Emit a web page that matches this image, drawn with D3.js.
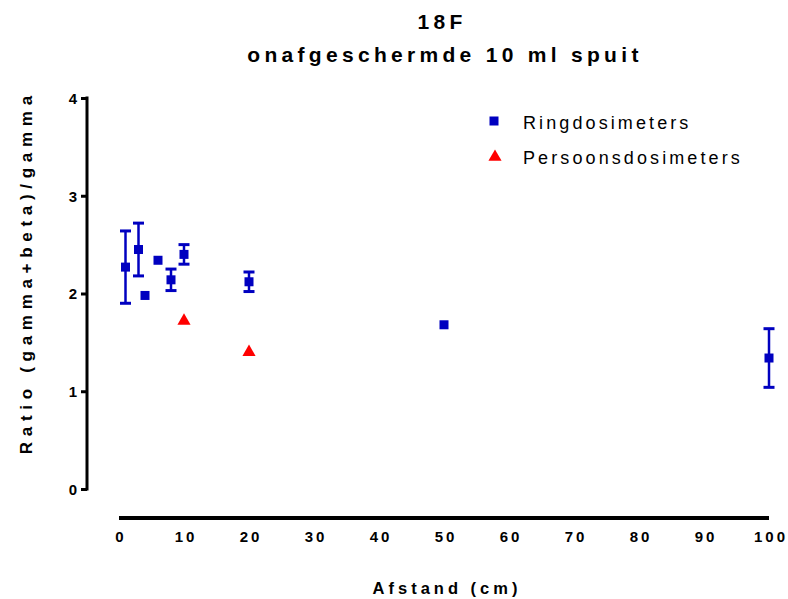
<!DOCTYPE html>
<html><head><meta charset="utf-8">
<script src="https://cdn.jsdelivr.net/npm/d3@7"></script>
<style>body{margin:0;background:#fff}svg{display:block}text{font-family:"Liberation Sans",Arial,sans-serif}</style>
</head><body>
<svg id="c" width="788" height="599"></svg>
<script>
const titleLines = ["18F", "onafgeschermde 10 ml spuit"];
const xLabel = "Afstand (cm)";
const yLabel = "Ratio (gamma+beta)/gamma";
const seriesNames = ["Ringdosimeters", "Persoonsdosimeters"];
const ringX = [1, 3, 4, 6, 8, 10, 20, 50, 100];
const ringY = [2.27, 2.45, 1.98, 2.34, 2.14, 2.40, 2.12, 1.68, 1.34];
const ringErr = [0.37, 0.27, 0, 0, 0.11, 0.10, 0.10, 0, 0.30];
const persX = [10, 20];
const persY = [1.72, 1.40];
const xTicks = [0, 10, 20, 30, 40, 50, 60, 70, 80, 90, 100];
const yTicks = [0, 1, 2, 3, 4];

const svg = d3.select("#c");
const x = d3.scaleLinear().domain([0, 100]).range([119, 769]);
const y = d3.scaleLinear().domain([0, 4]).range([489, 98]);
const blue = "#0000C0", red = "#FF0000";

// titles
svg.append("text").attr("x", 440).attr("y", 28.5).attr("dx", 2).attr("text-anchor", "middle")
  .attr("font-size", 21).attr("font-weight", "bold").attr("letter-spacing", 4.3).text(titleLines[0]);
svg.append("text").attr("x", 443).attr("y", 62).attr("dx", 2).attr("text-anchor", "middle")
  .attr("font-size", 21).attr("font-weight", "bold").attr("letter-spacing", 4.3).text(titleLines[1]);

// y axis
const yAxis = svg.append("g").attr("transform", "translate(87,0)")
  .call(d3.axisLeft(y).tickValues(yTicks).tickFormat(d3.format("d")).tickSize(6).tickPadding(4));
yAxis.select(".domain").attr("stroke", "#000").attr("stroke-width", 3).attr("d", `M0,${y(0)+1.5}V${y(4)-1.5}`);
yAxis.selectAll(".tick line").attr("stroke", "#000").attr("stroke-width", 3);
yAxis.selectAll(".tick text").attr("font-size", 15).attr("font-weight", "bold").attr("fill", "#000")
  .attr("font-family", "Liberation Sans, Arial, sans-serif").attr("dy", "0.36em");

// x axis
const xAxis = svg.append("g").attr("transform", "translate(0,518)")
  .call(d3.axisBottom(x).tickValues(xTicks).tickFormat(d3.format("d")).tickSize(0).tickPadding(13));
xAxis.select(".domain").attr("stroke", "#000").attr("stroke-width", 4).attr("d", `M${x(0)},0H${x(100)}`);
xAxis.selectAll(".tick text").attr("font-size", 15).attr("font-weight", "bold").attr("fill", "#000")
  .attr("font-family", "Liberation Sans, Arial, sans-serif").attr("letter-spacing", 3).attr("dx", 1.5);

// axis labels
svg.append("text").attr("x", 445).attr("y", 593.5).attr("dx", 2).attr("text-anchor", "middle")
  .attr("font-size", 16.5).attr("font-weight", "bold").attr("letter-spacing", 4).text(xLabel);
svg.append("text").attr("transform", "translate(32,275) rotate(-90)").attr("dx", 2.8).attr("text-anchor", "middle")
  .attr("font-size", 17).attr("font-weight", "bold").attr("letter-spacing", 5.7).text(yLabel);

// error bars
const ring = ringX.map((d, i) => ({x: d, y: ringY[i], e: ringErr[i]}));
const eb = svg.append("g").attr("stroke", blue).attr("stroke-width", 2.5).attr("fill", "none");
ring.filter(d => d.e > 0).forEach(d => {
  const cx = x(d.x), t = y(d.y + d.e), b = y(d.y - d.e);
  eb.append("line").attr("x1", cx).attr("x2", cx).attr("y1", t).attr("y2", b);
  eb.append("line").attr("x1", cx - 5.5).attr("x2", cx + 5.5).attr("y1", t).attr("y2", t).attr("stroke-width", 3);
  eb.append("line").attr("x1", cx - 5.5).attr("x2", cx + 5.5).attr("y1", b).attr("y2", b).attr("stroke-width", 3);
});

// points
const sq = 9;
svg.append("g").selectAll("rect").data(ring).join("rect")
  .attr("x", d => x(d.x) - sq / 2).attr("y", d => y(d.y) - sq / 2)
  .attr("width", sq).attr("height", sq).attr("fill", blue);
const tri = d3.symbol().type(d3.symbolTriangle).size(75);
const pers = persX.map((d, i) => ({x: d, y: persY[i]}));
svg.append("g").selectAll("path").data(pers).join("path")
  .attr("transform", d => `translate(${x(d.x)},${y(d.y)})`).attr("d", tri).attr("fill", red);

// legend
const lg = svg.append("g");
lg.append("rect").attr("x", 494 - sq / 2).attr("y", 121 - sq / 2).attr("width", sq).attr("height", sq).attr("fill", blue);
lg.append("path").attr("transform", "translate(495,157)").attr("d", tri).attr("fill", red);
lg.append("text").attr("x", 523).attr("y", 128.5).attr("font-size", 18).attr("letter-spacing", 3.1).text(seriesNames[0]);
lg.append("text").attr("x", 523).attr("y", 164).attr("font-size", 18).attr("letter-spacing", 3.1).text(seriesNames[1]);
</script>
</body></html>
